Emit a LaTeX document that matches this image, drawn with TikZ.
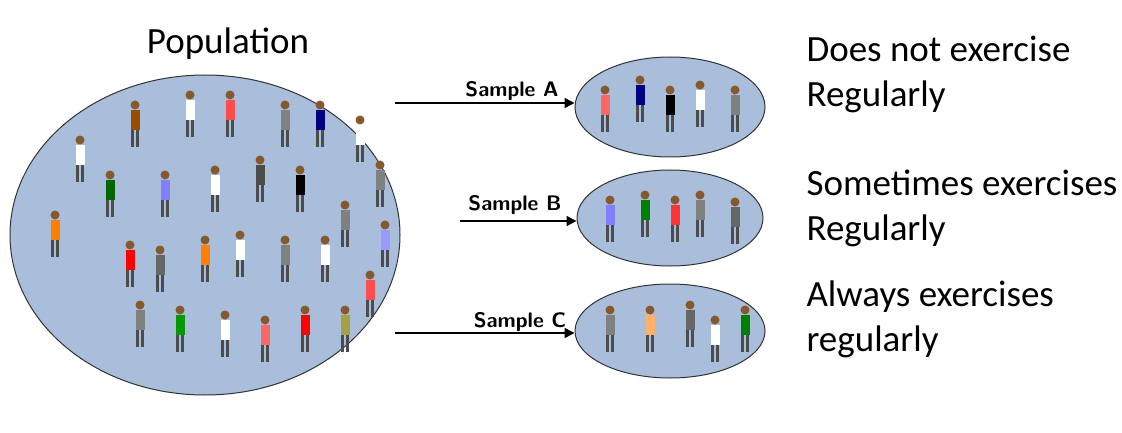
\documentclass[tikz,border=0pt]{standalone}
\usepackage{fontspec}
\setmainfont{Carlito}
\usetikzlibrary{arrows.meta,shapes.geometric}
\definecolor{popblue}{HTML}{A9BEDB}
\tikzset{
 pop/.style={draw=black!80,line width=1pt,fill=popblue},
 conn/.style={-{Triangle[length=10pt,width=10pt]},line width=1.5pt},
 slab/.style={font=\fontsize{21}{24}\selectfont\bfseries\sffamily},
 rtext/.style={font=\fontsize{37}{45}\selectfont,anchor=north west,align=left},
 person/.pic={
   \fill[#1] (-4.5,-15) rectangle (4.5,5);
   \fill[black!70] (-4,5) rectangle (-0.7,22);
   \fill[black!70] (0.7,5) rectangle (4,22);
   \fill[brown!70!black] (0,-20) circle (4.5);
 }
}
\begin{document}
\begin{tikzpicture}[x=1pt,y=-1pt]
\useasboundingbox (0,0) rectangle (1122,433);
\node[pop,ellipse,minimum width=390,minimum height=320,inner sep=0] (P) at (205,235) {};
\node[pop,ellipse,minimum width=190,minimum height=100,inner sep=0] (A) at (670,107) {};
\node[pop,ellipse,minimum width=186,minimum height=96,inner sep=0] (B) at (670,218) {};
\node[pop,ellipse,minimum width=190,minimum height=94,inner sep=0] (C) at (670,331) {};
\foreach \x/\y/\c in {80/160/white,135/125/orange!60!black,190/115/white,230/115/red!70,285/125/gray,320/125/blue!50!black,360/140/white,380/185/gray,
 55/235/orange,110/195/green!40!black,165/195/blue!50,215/190/white,260/180/black!70,300/190/black,345/225/gray,385/245/blue!40,
 130/265/red,160/270/black!60,205/260/orange,240/255/white,285/260/gray,325/260/white,370/295/red!70,
 140/325/gray,180/330/green!60!black,225/335/white,265/340/red!60,305/330/red,345/330/yellow!60!black}
  \pic at (\x,\y) {person=\c};
\foreach \x/\y/\c in {605/110/red!60,640/100/blue!50!black,670/110/black,700/105/white,735/110/gray}
  \pic at (\x,\y) {person=\c};
\foreach \x/\y/\c in {610/220/blue!50,645/215/green!50!black,675/220/red!80,700/215/gray,735/222/black!60}
  \pic at (\x,\y) {person=\c};
\foreach \x/\y/\c in {610/330/gray,650/330/orange!60,690/325/black!60,715/340/white,745/330/green!50!black}
  \pic at (\x,\y) {person=\c};
\coordinate (sa) at (395,103);
\coordinate (sb) at (460,221);
\coordinate (sc) at (395,333);
\draw[conn] (sa) -- (A.west|-sa);
\draw[conn] (sb) -- (B.west|-sb);
\draw[conn] (sc) -- (C.west|-sc);
\node[slab] (la) at (512,91) {Sample A};
\node[slab] (lb) at (515,205) {Sample B};
\node[slab] (lc) at (520,322) {Sample C};
\node[font=\fontsize{37}{40}\selectfont] (pl) at (228,44) {Population};
\node[rtext] (ta) at (803,33) {Does not exercise\\Regularly};
\node[rtext] (tb) at (803,166) {Sometimes exercises\\Regularly};
\node[rtext] (tc) at (803,277) {Always exercises\\regularly};
\end{tikzpicture}
\end{document}
